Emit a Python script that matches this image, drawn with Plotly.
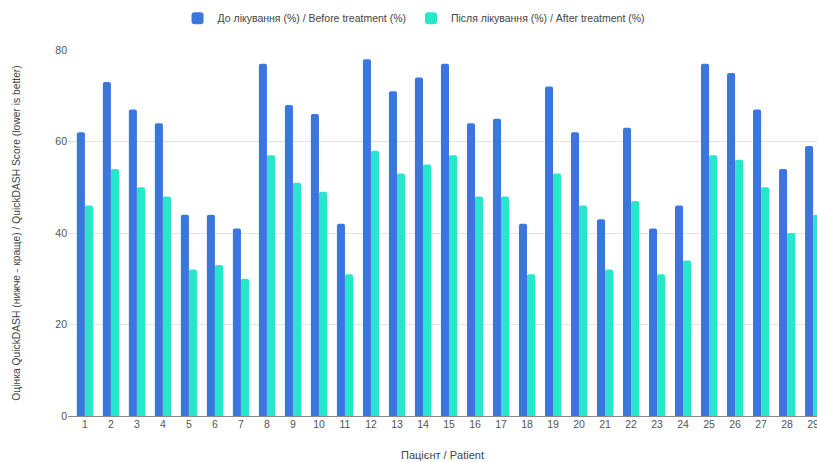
import plotly.graph_objects as go

# QuickDASH scores per patient, before and after treatment
patients = list(range(1, 30))
before = [62, 73, 67, 64, 44, 44, 41, 77, 68, 66, 42, 78, 71, 74, 77,
          64, 65, 42, 72, 62, 43, 63, 41, 46, 77, 75, 67, 54, 59]
after = [46, 54, 50, 48, 32, 33, 30, 57, 51, 49, 31, 58, 53, 55, 57,
         48, 48, 31, 53, 46, 32, 47, 31, 34, 57, 56, 50, 40, 44]
y_ticks = [0, 20, 40, 60, 80]

name_before = "До лікування (%) / Before treatment (%)"
name_after = "Після лікування (%) / After treatment (%)"

BLUE = "#3b76df"
AQUA = "#27e6cc"
FONT = "Liberation Sans, Arial, sans-serif"
TXT = "#555555"

fig = go.Figure()
fig.add_trace(go.Bar(x=patients, y=before, name=name_before,
                     marker=dict(color=BLUE, line=dict(width=0), cornerradius=2)))
fig.add_trace(go.Bar(x=patients, y=after, name=name_after,
                     marker=dict(color=AQUA, line=dict(width=0), cornerradius=2)))

fig.update_layout(
    width=817, height=462,
    margin=dict(l=68, r=0, t=50, b=46),
    paper_bgcolor="white", plot_bgcolor="white",
    font=dict(family=FONT, size=11, color=TXT),
    barmode="group", bargap=0.38, bargroupgap=0.0,
    legend=dict(orientation="h", x=0.462, xanchor="center", y=1.087, yanchor="middle",
                font=dict(size=10.5, color="#444444"), itemwidth=30,
                traceorder="normal"),
    xaxis=dict(
        range=[0.35, 29.15], tickmode="array", tickvals=patients,
        ticktext=[str(p) for p in patients], showgrid=False, zeroline=False,
        showline=False, ticks="", tickfont=dict(size=10.5, color=TXT),
        ticklabeloverflow="allow",
        title=dict(text="Пацієнт / Patient", font=dict(size=11, color="#444444"),
                   standoff=22),
        automargin=False,
    ),
    yaxis=dict(
        range=[0, 80], tickmode="array", tickvals=y_ticks,
        showgrid=True, gridcolor="#e3e3e3", gridwidth=1,
        zeroline=True, zerolinecolor="#8a8a8a", zerolinewidth=1,
        showline=False, ticks="", tickfont=dict(size=10.5, color=TXT),
        title=dict(text="Оцінка QuickDASH (нижче - краще) / QuickDASH Score (lower is better)",
                   font=dict(size=10.3, color="#444444"), standoff=32),
        automargin=False,
    ),
)

fig.write_html("out.html")
